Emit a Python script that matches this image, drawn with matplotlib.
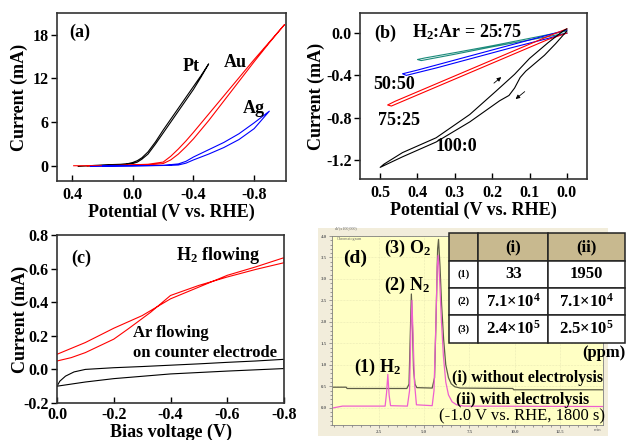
import matplotlib
matplotlib.use("Agg")
import matplotlib.pyplot as plt
from matplotlib.ticker import FormatStrFormatter, MultipleLocator

plt.rcParams['font.family'] = ['Liberation Serif', 'DejaVu Serif']
plt.rcParams['font.weight'] = 'bold'
plt.rcParams['axes.labelweight'] = 'bold'
plt.rcParams['axes.unicode_minus'] = False
plt.rcParams['mathtext.fontset'] = 'custom'
plt.rcParams['mathtext.rm'] = 'Liberation Serif:bold'
plt.rcParams['mathtext.it'] = 'Liberation Serif:bold'
plt.rcParams['mathtext.bf'] = 'Liberation Serif:bold'
plt.rcParams['mathtext.default'] = 'regular'

# ---- (a) CVs on metal electrodes
pt_v_fwd = [0.36, 0.25, 0.15, 0.08, 0.03, 0.0, -0.03, -0.06, -0.1, -0.15, -0.2, -0.25, -0.3, -0.35, -0.4, -0.45, -0.5]
pt_i_fwd = [-0.1, 0.05, 0.15, 0.2, 0.3, 0.45, 0.7, 1.1, 1.9, 3.3, 4.9, 6.4, 7.9, 9.4, 10.9, 12.4, 14.0]
pt_v_rev = [-0.5, -0.45, -0.4, -0.35, -0.3, -0.25, -0.2, -0.15, -0.1, -0.06, -0.03, 0.0, 0.05, 0.15, 0.3]
pt_i_rev = [14.0, 12.2, 10.5, 9.0, 7.5, 6.0, 4.5, 3.0, 1.6, 0.9, 0.5, 0.3, 0.15, 0.05, 0.0]

au_v_fwd = [0.39, 0.2, 0.0, -0.1, -0.2, -0.25, -0.3, -0.35, -0.4, -0.5, -0.6, -0.7, -0.8, -0.9, -1.0]
au_i_fwd = [0.0, 0.0, 0.05, 0.1, 0.3, 0.8, 1.6, 2.6, 3.7, 6.2, 8.9, 11.6, 14.3, 16.9, 19.4]
au_v_rev = [-1.0, -0.9, -0.8, -0.7, -0.6, -0.5, -0.4, -0.35, -0.3, -0.25, -0.2, -0.1, 0.1, 0.3]
au_i_rev = [19.4, 17.0, 14.6, 12.1, 9.6, 7.1, 4.6, 3.4, 2.3, 1.3, 0.5, 0.2, 0.05, 0.0]

ag_v_fwd = [0.28, 0.1, -0.1, -0.25, -0.3, -0.35, -0.4, -0.5, -0.6, -0.7, -0.8, -0.9]
ag_i_fwd = [-0.1, -0.05, 0.0, 0.05, 0.1, 0.35, 0.8, 1.6, 2.5, 3.6, 5.1, 7.5]
ag_v_rev = [-0.9, -0.8, -0.7, -0.6, -0.5, -0.4, -0.35, -0.3, -0.2, 0.0, 0.2]
ag_i_rev = [7.5, 5.9, 4.4, 3.2, 2.2, 1.2, 0.6, 0.25, 0.05, 0.0, 0.0]

# ---- (b) Pt under H2:Ar mixtures
mix25_v = [0.0, 0.1, 0.2, 0.3, 0.38, 0.40, 0.39, 0.3, 0.2, 0.1, 0.0]
mix25_i = [0.02, -0.05, -0.12, -0.185, -0.235, -0.25, -0.26, -0.2, -0.13, -0.065, 0.0]
mix50_v = [0.0, 0.1, 0.2, 0.3, 0.4, 0.44, 0.43, 0.35, 0.25, 0.15, 0.05, 0.0]
mix50_i = [0.03, -0.065, -0.16, -0.255, -0.35, -0.385, -0.40, -0.33, -0.235, -0.14, -0.05, 0.0]
mix75_v = [0.0, 0.05, 0.1, 0.2, 0.3, 0.4, 0.46, 0.48, 0.47, 0.4, 0.3, 0.2, 0.1, 0.05, 0.0]
mix75_i = [0.04, -0.03, -0.105, -0.255, -0.405, -0.555, -0.645, -0.68, -0.69, -0.585, -0.435, -0.285, -0.135, -0.06, 0.0]
mix100_v = [0.0, 0.01, 0.05, 0.10, 0.14, 0.19, 0.26, 0.35, 0.44, 0.49, 0.50,
            0.44, 0.35, 0.26, 0.18, 0.155, 0.14, 0.125, 0.11, 0.09, 0.06, 0.03, 0.0]
mix100_i = [0.04, 0.02, -0.09, -0.24, -0.39, -0.55, -0.77, -0.99, -1.13, -1.24, -1.27,
            -1.17, -1.03, -0.84, -0.64, -0.59, -0.52, -0.42, -0.36, -0.30, -0.21, -0.10, 0.02]

# ---- (c) two-electrode cell
h2_v = [0.0, -0.05, -0.1, -0.2, -0.3, -0.4, -0.5, -0.6, -0.7, -0.8,
        -0.8, -0.7, -0.6, -0.5, -0.4, -0.33, -0.25, -0.2, -0.1, -0.05, 0.0]
h2_i = [0.09, 0.125, 0.16, 0.245, 0.32, 0.42, 0.49, 0.56, 0.61, 0.665,
        0.635, 0.595, 0.55, 0.50, 0.44, 0.34, 0.24, 0.18, 0.10, 0.07, 0.05]
ar_v = [0.0, -0.01, -0.03, -0.06, -0.1, -0.2, -0.3, -0.4, -0.5, -0.6, -0.7, -0.8,
        -0.8, -0.6, -0.4, -0.2, -0.1, 0.0]
ar_i = [-0.1, -0.07, -0.04, -0.015, 0.0, 0.01, 0.017, 0.025, 0.033, 0.042, 0.05, 0.06,
        0.005, -0.01, -0.027, -0.055, -0.075, -0.1]

# ---- (d) gas chromatograms
gc_t_i = [0.0, 0.7, 0.75, 4.05, 4.17, 4.24, 4.3, 4.36, 4.42, 4.5, 4.6, 5.45, 5.58, 5.67, 5.75,
          5.8, 5.88, 5.97, 6.08, 6.2, 6.35, 6.5, 6.7, 7.0, 9.9, 9.95, 14.9]
gc_s_i = [0.48, 0.48, 0.45, 0.45, 0.55, 1.7, 2.65, 1.9, 0.9, 0.55, 0.47, 0.46, 0.7, 2.2, 3.7,
          3.92, 3.3, 2.4, 1.6, 1.0, 0.7, 0.56, 0.49, 0.46, 0.45, 0.42, 0.42]
gc_t_ii = [0.0, 0.5, 1.5, 2.85, 2.93, 3.0, 3.07, 3.15, 4.08, 4.2, 4.27, 4.33, 4.4, 4.47, 4.58,
           5.45, 5.55, 5.65, 5.73, 5.78, 5.86, 5.95, 6.07, 6.2, 6.35, 6.55, 6.8, 7.2, 14.9]
gc_s_ii = [0.0, 0.04, 0.04, 0.04, 0.35, 0.78, 0.3, 0.05, 0.04, 0.4, 1.8, 2.5, 1.6, 0.6, 0.07,
           0.05, 0.4, 1.9, 3.3, 3.55, 3.0, 2.1, 1.2, 0.6, 0.3, 0.14, 0.07, 0.04, 0.03]

table_rows = ["(1)", "(2)", "(3)"]
table_cols = ["(i)", "(ii)"]
ppm_i = ["33", "7.1×10$^4$", "2.4×10$^5$"]
ppm_ii = ["1950", "7.1×10$^4$", "2.5×10$^5$"]

W, H = 627, 440
fig = plt.figure(figsize=(6.27, 4.40), dpi=100)


def box(x0, y0, x1, y1):
    # pixel box (top-left origin) -> figure fraction rect
    return [x0 / W, 1 - y1 / H, (x1 - x0) / W, (y1 - y0) / H]


def style(ax):
    for s in ax.spines.values():
        s.set_linewidth(1.2)
        s.set_color('#333333')
    ax.tick_params(length=4, width=1, labelsize=11.5)
    ax.tick_params(axis='x', direction='in', pad=4)
    ax.tick_params(axis='y', direction='out', pad=2)


# (a)
ax = fig.add_axes(box(57, 13, 286, 181))
ax.plot(pt_v_fwd + pt_v_rev, pt_i_fwd + pt_i_rev, color='black', lw=0.8)
ax.plot(au_v_fwd + au_v_rev, au_i_fwd + au_i_rev, color='red', lw=0.8)
ax.plot(ag_v_fwd + ag_v_rev, ag_i_fwd + ag_i_rev, color='blue', lw=0.8)
ax.set_xlim(0.5, -1.01)
ax.set_ylim(-2.1, 21)
ax.set_xticks([0.4, 0.0, -0.4, -0.8])
ax.set_yticks([0, 6, 12, 18])
ax.xaxis.set_major_formatter(FormatStrFormatter('%.1f'))
style(ax)
ax.set_xlabel('Potential (V vs. RHE)', fontsize=13)
ax.set_ylabel('Current (mA)', fontsize=13)
ax.xaxis.set_label_coords(0.5, -0.135)
ax.yaxis.set_label_coords(-0.125, 0.5)
ax.text(0.35, 18.3, '(a)', fontsize=13, ha='center', va='center')
ax.text(-0.384, 13.6, 'Pt', fontsize=13, ha='center', va='center')
ax.text(-0.673, 14.2, 'Au', fontsize=13, ha='center', va='center')
ax.text(-0.798, 7.9, 'Ag', fontsize=13, ha='center', va='center')

# (b)
ax = fig.add_axes(box(360, 13, 587, 179))
ax.plot(mix25_v, mix25_i, color='#1a8a7a', lw=0.8)
ax.plot(mix50_v, mix50_i, color='blue', lw=0.8)
ax.plot(mix75_v, mix75_i, color='red', lw=0.8)
ax.plot(mix100_v, mix100_i, color='black', lw=0.8)
ax.set_xlim(0.554, -0.054)
ax.set_ylim(-1.38, 0.19)
ax.set_xticks([0.5, 0.4, 0.3, 0.2, 0.1, 0.0])
ax.set_yticks([0.0, -0.4, -0.8, -1.2])
ax.xaxis.set_major_formatter(FormatStrFormatter('%.1f'))
ax.yaxis.set_major_formatter(FormatStrFormatter('%.1f'))
style(ax)
ax.set_xlabel('Potential (V vs. RHE)', fontsize=13)
ax.set_ylabel('Current (mA)', fontsize=13)
ax.xaxis.set_label_coords(0.5, -0.135)
ax.yaxis.set_label_coords(-0.155, 0.5)
ax.text(0.487, 0.0, '(b)', fontsize=13, ha='center', va='center')
ax.text(0.268, 0.005, 'H$_2$:Ar = 25:75', fontsize=13, ha='center', va='center')
ax.text(0.464, -0.49, '50:50', fontsize=13, ha='center', va='center')
ax.text(0.45, -0.83, '75:25', fontsize=13, ha='center', va='center')
ax.text(0.297, -1.07, '100:0', fontsize=13, ha='center', va='center')
ax.annotate('', xy=(0.170, -0.40), xytext=(0.201, -0.49),
            arrowprops=dict(arrowstyle='-|>', lw=0.6, color='black', mutation_scale=6))
ax.annotate('', xy=(0.143, -0.64), xytext=(0.107, -0.537),
            arrowprops=dict(arrowstyle='-|>', lw=0.6, color='black', mutation_scale=6))

# (c)
ax = fig.add_axes(box(57, 235, 284, 403))
ax.plot(h2_v, h2_i, color='red', lw=0.8)
ax.plot(ar_v, ar_i, color='black', lw=0.8)
ax.set_xlim(0.0, -0.8)
ax.set_ylim(-0.2, 0.8)
ax.set_xticks([0.0, -0.2, -0.4, -0.6, -0.8])
ax.set_yticks([-0.2, 0.0, 0.2, 0.4, 0.6, 0.8])
ax.xaxis.set_major_formatter(FormatStrFormatter('%.1f'))
ax.yaxis.set_major_formatter(FormatStrFormatter('%.1f'))
style(ax)
ax.tick_params(axis='x', pad=3)
ax.set_xlabel('Bias voltage (V)', fontsize=13)
ax.set_ylabel('Current (mA)', fontsize=13)
ax.xaxis.set_label_coords(0.5, -0.125)
ax.yaxis.set_label_coords(-0.125, 0.5)
ax.text(-0.087, 0.66, '(c)', fontsize=13, ha='center', va='center')
ax.text(-0.569, 0.68, 'H$_2$ flowing', fontsize=13, ha='center', va='center')
ax.text(-0.269, 0.215, 'Ar flowing', fontsize=12, ha='left', va='center')
ax.text(-0.269, 0.096, 'on counter electrode', fontsize=12, ha='left', va='center')

# (d) chromatogram screenshot
bg = fig.add_axes(box(318, 228, 608, 436))
bg.set_facecolor('#f2eddb')
bg.set_xticks([])
bg.set_yticks([])
for s in bg.spines.values():
    s.set_visible(False)

ax = fig.add_axes(box(331.7, 236, 603.3, 425))
ax.set_facecolor('#ffffc4')
ax.plot(gc_t_i, gc_s_i, color='#5e5e48', lw=0.9)
ax.plot(gc_t_ii, gc_s_ii, color='#ee5fcf', lw=0.9)
ax.set_xlim(-0.1, 14.9)
ax.set_ylim(-0.4, 4.0)
ax.xaxis.set_major_locator(MultipleLocator(2.5))
ax.xaxis.set_minor_locator(MultipleLocator(0.5))
ax.yaxis.set_major_locator(MultipleLocator(0.5))
ax.yaxis.set_minor_locator(MultipleLocator(0.1))
ax.xaxis.set_major_formatter(FormatStrFormatter('%.1f'))
ax.yaxis.set_major_formatter(FormatStrFormatter('%.1f'))
ax.tick_params(which='both', direction='out', labelsize=3.5, labelcolor='#666666',
               color='#777777', width=0.5, pad=1)
ax.tick_params(which='major', length=2.5)
ax.tick_params(which='minor', length=1.2)
for s in ax.spines.values():
    s.set_linewidth(0.6)
    s.set_color('#808080')
ax.grid(True, which='major', color='#d8d8a8', lw=0.4, ls=':')
ax.set_xticks([2.5, 5.0, 7.5, 10.0, 12.5])
ax.text(14.6, -0.47, 'min', fontsize=3.5, color='#666666', ha='center', va='top',
        fontweight='normal')
ax.text(0.2, 3.97, 'Chromatogram', fontsize=3, color='#666666', ha='left', va='top',
        fontweight='normal')
fig.text(335 / W, 1 - 231 / H, 'uV(x100,000)', fontsize=3, color='#666666',
         ha='left', va='bottom', fontweight='normal')


def ftext(px, py, s, **kw):
    fig.text(px / W, 1 - py / H, s, ha='center', va='center', **kw)


ftext(355, 258.3, '(d)', fontsize=14)
ftext(407.3, 248.3, '(3) O$_2$', fontsize=13)
ftext(407.3, 285.7, '(2) N$_2$', fontsize=13)
ftext(377.3, 367.7, '(1) H$_2$', fontsize=13)
ftext(604, 353.3, '(ppm)', fontsize=12)
ftext(527.7, 378.3, '(i) without electrolysis', fontsize=11.5)
ftext(522.3, 400, '(ii) with electrolysis', fontsize=11.5)
ftext(522.3, 416.7, '(-1.0 V vs. RHE, 1800 s)', fontsize=12, fontweight='normal')

tax = fig.add_axes(box(449.3, 233.3, 625, 342.7))
tax.axis('off')
cells = [[""] + table_cols] + [[r, a, b] for r, a, b in zip(table_rows, ppm_i, ppm_ii)]
tab = tax.table(cellText=cells, cellLoc='center', bbox=[0, 0, 1, 1],
                colWidths=[0.165, 0.398, 0.437])
tab.auto_set_font_size(False)
for (r, c), cell in tab.get_celld().items():
    cell.set_linewidth(1.1)
    cell.set_edgecolor('#222222')
    cell.set_facecolor('#c8b98f' if r == 0 else 'white')
    cell.get_text().set_fontsize(7.5 if (c == 0 and r > 0) else 12)
    cell.get_text().set_fontweight('bold')

fig.savefig('out.png', dpi=100)
